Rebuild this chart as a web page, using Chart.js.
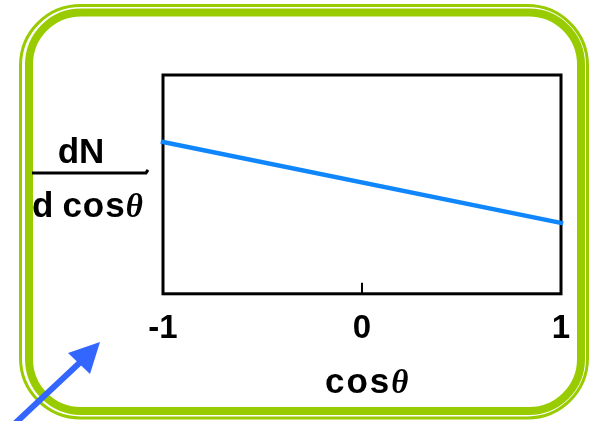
<!DOCTYPE html>
<html>
<head>
<meta charset="utf-8">
<script src="https://cdn.jsdelivr.net/npm/chart.js@4"></script>
<style>
  html, body { margin: 0; padding: 0; background: #ffffff; }
  #wrap { position: relative; width: 590px; height: 421px; }
  canvas { display: block; }
</style>
</head>
<body>
<div id="wrap"><canvas id="c" width="590" height="421"></canvas></div>
<script>
// Angular distribution: dN/dcosθ falls linearly across cosθ ∈ [-1, 1]
const cosTheta = [-1, 1];
const dNdCos = [0.694, 0.324];
const xTickValues = [-1, 0, 1];
const xTickLabels = ['-1', '0', '1'];

const SANS = '"Liberation Sans", Arial, sans-serif';
const SERIF = '"Liberation Serif", "Times New Roman", serif';
const GREEN = '#99cc00';
const ARROW_BLUE = '#3366ff';

function roundedPath(ctx, l, t, r, b, rad) {
  ctx.beginPath();
  ctx.moveTo(l + rad, t);
  ctx.lineTo(r - rad, t);
  ctx.arcTo(r, t, r, t + rad, rad);
  ctx.lineTo(r, b - rad);
  ctx.arcTo(r, b, r - rad, b, rad);
  ctx.lineTo(l + rad, b);
  ctx.arcTo(l, b, l, b - rad, rad);
  ctx.lineTo(l, t + rad);
  ctx.arcTo(l, t, l + rad, t, rad);
  ctx.closePath();
}

// Draws a run of text pieces (each with its own font) starting at x
function drawRun(ctx, pieces, x, y) {
  let cx = x;
  for (const p of pieces) {
    ctx.font = p.font;
    ctx.letterSpacing = (p.spacing || 0) + 'px';
    ctx.fillText(p.text, cx, y);
    cx += ctx.measureText(p.text).width + (p.gap || 0);
  }
  ctx.letterSpacing = '0px';
}
function runWidth(ctx, pieces) {
  let w = 0;
  for (const p of pieces) {
    ctx.font = p.font;
    ctx.letterSpacing = (p.spacing || 0) + 'px';
    w += ctx.measureText(p.text).width + (p.gap || 0);
  }
  ctx.letterSpacing = '0px';
  return w;
}

const decorPlugin = {
  id: 'decor',
  beforeDraw(chart) {
    const ctx = chart.ctx;
    ctx.save();
    // double rounded green border
    ctx.strokeStyle = GREEN;
    ctx.lineWidth = 3;
    roundedPath(ctx, 20.5, 5.5, 587.5, 418, 60);
    ctx.stroke();
    ctx.lineWidth = 8;
    roundedPath(ctx, 29, 12.5, 581, 411, 52);
    ctx.stroke();
    ctx.restore();
  },
  beforeDatasetsDraw(chart) {
    const ctx = chart.ctx;
    const a = chart.chartArea;
    const xs = chart.scales.x;
    ctx.save();
    ctx.strokeStyle = '#000';
    ctx.lineWidth = 3;
    ctx.strokeRect(a.left, a.top, a.right - a.left, a.bottom - a.top);
    // inward tick marks on the x axis
    ctx.lineWidth = 2;
    for (const v of xTickValues) {
      const px = Math.round(xs.getPixelForValue(v));
      ctx.beginPath();
      ctx.moveTo(px, a.bottom);
      ctx.lineTo(px, a.bottom - 11);
      ctx.stroke();
    }
    ctx.restore();
  },
  afterDraw(chart) {
    const ctx = chart.ctx;
    const a = chart.chartArea;
    ctx.save();
    ctx.fillStyle = '#000';
    ctx.textBaseline = 'alphabetic';
    ctx.textAlign = 'left';

    const sansB = 'bold 35px ' + SANS;
    const serifBI = 'italic bold 33px ' + SERIF;

    // x axis title: cosθ
    const xt = [{ text: 'cos', font: sansB, spacing: 2, gap: 0 }, { text: 'θ', font: serifBI }];
    drawRun(ctx, xt, 325, 393);

    // y axis title as a fraction: dN / d cosθ
    const midY = (a.top + a.bottom) / 2;
    const barY = midY - 11.5;
    const barL = 32, barR = 146;
    const yb = [{ text: 'd', font: sansB, gap: 9 }, { text: 'cos', font: sansB, spacing: 1, gap: 0 }, { text: 'θ', font: serifBI }];
    drawRun(ctx, yb, barL, barY + 44);
    ctx.font = sansB;
    const dnW = ctx.measureText('dN').width;
    ctx.fillText('dN', 81 - dnW / 2, barY - 10);
    ctx.strokeStyle = '#000';
    ctx.lineWidth = 3;
    ctx.beginPath();
    ctx.moveTo(barL, barY);
    ctx.lineTo(barR, barY);
    ctx.lineTo(barR + 2, barY - 3);
    ctx.stroke();

    // pointer arrow in the lower-left corner
    const tip = { x: 100, y: 342 };
    const c1 = { x: 68, y: 353 };
    const c2 = { x: 90, y: 374 };
    const baseMid = { x: (c1.x + c2.x) / 2, y: (c1.y + c2.y) / 2 };
    ctx.strokeStyle = ARROW_BLUE;
    ctx.fillStyle = ARROW_BLUE;
    ctx.lineWidth = 6;
    ctx.beginPath();
    ctx.moveTo(8, 430);
    ctx.lineTo(baseMid.x + 2, baseMid.y - 2);
    ctx.stroke();
    ctx.beginPath();
    ctx.moveTo(tip.x, tip.y);
    ctx.lineTo(c1.x, c1.y);
    ctx.lineTo(c2.x, c2.y);
    ctx.closePath();
    ctx.fill();
    ctx.restore();
  }
};

new Chart(document.getElementById('c'), {
  type: 'line',
  data: {
    datasets: [{
      data: cosTheta.map((x, i) => ({ x: x, y: dNdCos[i] })),
      borderColor: '#0f86fb',
      borderWidth: 4.5,
      pointRadius: 0,
      tension: 0,
      fill: false,
      clip: false,
      borderCapStyle: 'square'
    }]
  },
  options: {
    responsive: false,
    devicePixelRatio: 1,
    animation: false,
    events: [],
    layout: { padding: { left: 163, top: 75, right: 29, bottom: 57.6 } },
    plugins: { legend: { display: false }, tooltip: { enabled: false } },
    scales: {
      x: {
        type: 'linear',
        min: -1,
        max: 1,
        afterBuildTicks(scale) { scale.ticks = xTickValues.map(v => ({ value: v })); },
        ticks: {
          callback: (v) => xTickLabels[xTickValues.indexOf(v)],
          font: { family: SANS, weight: 'bold', size: 33 },
          color: '#000',
          padding: 15,
          maxRotation: 0,
          autoSkip: false
        },
        grid: { display: false, drawTicks: false },
        border: { display: false }
      },
      y: { min: 0, max: 1, display: false }
    }
  },
  plugins: [decorPlugin]
});
</script>
</body>
</html>
